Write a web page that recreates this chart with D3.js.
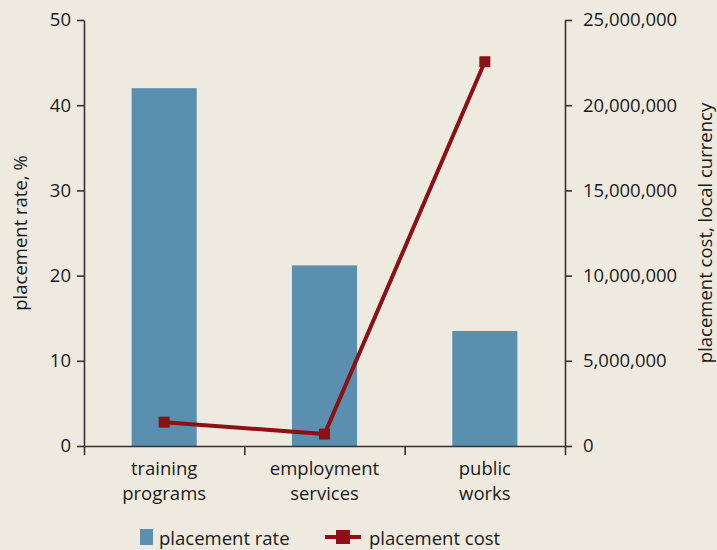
<!DOCTYPE html>
<meta charset="utf-8">
<style>
  body { margin: 0; background: #efeae0; }
  svg { display: block; background: #efeae0; }
  text { font-family: "Open Sans", sans-serif; fill: #1a1a1a; }
  .axis path, .axis line { stroke: #333; stroke-width: 1.6px; }
  .axis text { font-size: 18.5px; fill: #1a1a1a; font-family: "Open Sans", sans-serif; }
</style>
<body>
<svg width="717" height="550"></svg>
<script src="https://d3js.org/d3.v7.min.js"></script>
<script>

// chart values
var categories = [["training", "programs"], ["employment", "services"], ["public", "works"]];
var placementRate = [42.0, 21.2, 13.5];
var placementCost = [1400000, 700000, 22550000];
var rateTicks = [0, 10, 20, 30, 40, 50];
var costTicks = [0, 5000000, 10000000, 15000000, 20000000, 25000000];

const svg = d3.select('svg');
const margin = {left: 84, right: 152, top: 20, bottom: 104};
const width = +svg.attr('width'), height = +svg.attr('height');
const FS = 18.5;

var x = d3.scaleBand()
  .domain(d3.range(categories.length))
  .range([margin.left, width - margin.right])
  .paddingInner(0.594).paddingOuter(0.297);

var xTicks = d3.scaleLinear().domain([0, categories.length])
  .range([margin.left, width - margin.right]);

var yL = d3.scaleLinear().domain([0, 50]).range([height - margin.bottom, margin.top]);
var yR = d3.scaleLinear().domain([0, 25000000]).range([height - margin.bottom, margin.top]);

// bars
svg.append('g').selectAll('rect')
  .data(placementRate)
  .enter().append('rect')
  .attr('x', (d, i) => x(i))
  .attr('width', x.bandwidth())
  .attr('y', d => yL(d))
  .attr('height', d => yL(0) - yL(d))
  .attr('fill', '#5b8fb0');

// axes
svg.append('g').attr('class', 'axis')
  .attr('transform', `translate(${margin.left},0)`)
  .call(d3.axisLeft(yL).tickValues(rateTicks).tickSize(7).tickPadding(6).tickSizeOuter(0));

svg.append('g').attr('class', 'axis')
  .attr('transform', `translate(${width - margin.right},0)`)
  .call(d3.axisRight(yR).tickValues(costTicks).tickSize(7).tickPadding(11).tickSizeOuter(0)
    .tickFormat(d3.format(',')));

svg.append('g').attr('class', 'axis')
  .attr('transform', `translate(0,${yL(0)})`)
  .call(d3.axisBottom(xTicks).tickValues(d3.range(categories.length + 1)).tickSize(9).tickFormat('').tickSizeOuter(0));

// category labels
var catLabels = svg.append('g').selectAll('text')
  .data(categories)
  .enter().append('text')
  .attr('text-anchor', 'middle')
  .attr('font-size', FS)
  .attr('x', (d, i) => x(i) + x.bandwidth() / 2)
  .attr('y', yL(0) + 29);
catLabels.selectAll('tspan')
  .data(d => d)
  .enter().append('tspan')
  .attr('x', function() { return this.parentNode.getAttribute('x'); })
  .attr('dy', (d, i) => i === 0 ? 0 : 25)
  .text(d => d);

// line
var line = d3.line()
  .x((d, i) => x(i) + x.bandwidth() / 2)
  .y(d => yR(d));

svg.append('path')
  .datum(placementCost)
  .attr('d', line)
  .attr('fill', 'none')
  .attr('stroke', '#8c1116')
  .attr('stroke-width', 4);

svg.append('g').selectAll('rect')
  .data(placementCost)
  .enter().append('rect')
  .attr('x', (d, i) => x(i) + x.bandwidth() / 2 - 5.5)
  .attr('y', d => yR(d) - 5.5)
  .attr('width', 11).attr('height', 11)
  .attr('fill', '#8c1116');

// axis titles
svg.append('text')
  .attr('transform', `translate(27,${(yL(0) + yL(50)) / 2}) rotate(-90)`)
  .attr('text-anchor', 'middle')
  .attr('font-size', FS)
  .text('placement rate, %');

svg.append('text')
  .attr('transform', `translate(712,${(yL(0) + yL(50)) / 2}) rotate(-90)`)
  .attr('text-anchor', 'middle')
  .attr('font-size', FS)
  .text('placement cost, local currency');

// legend
var legend = svg.append('g').attr('transform', 'translate(0,538)');
legend.append('rect').attr('x', 140).attr('y', -9).attr('width', 13).attr('height', 16).attr('fill', '#5b8fb0');
legend.append('text').attr('x', 159).attr('y', 7).attr('font-size', FS).text('placement rate');
legend.append('line').attr('x1', 325).attr('x2', 361).attr('y1', -1).attr('y2', -1)
  .attr('stroke', '#8c1116').attr('stroke-width', 4);
legend.append('rect').attr('x', 336).attr('y', -8).attr('width', 14).attr('height', 14).attr('fill', '#8c1116');
legend.append('text').attr('x', 369).attr('y', 7).attr('font-size', FS).text('placement cost');

</script>
</body>
